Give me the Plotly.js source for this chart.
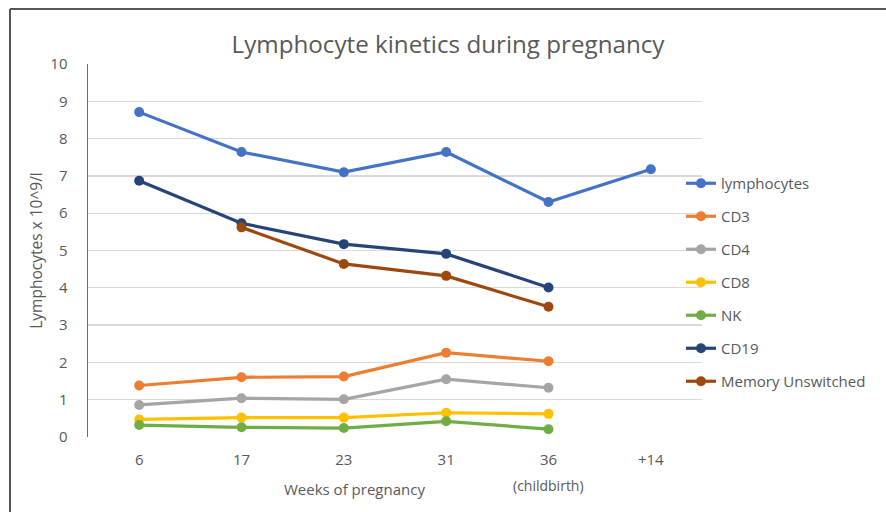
<!DOCTYPE html>
<html>
<head>
<meta charset="utf-8">
<script src="https://cdn.plot.ly/plotly-3.0.1.min.js"></script>
<style>html,body{margin:0;padding:0;background:#fff;}#chart{width:886px;height:512px;}</style>
</head>
<body>
<div id="chart"></div>
<script>
const weeks = ['6', '17', '23', '31', '36', '+14'];
const childbirthWeek = '36';
const weekSubLabel = '(childbirth)';

const lymphocytes = [8.71, 7.64, 7.10, 7.64, 6.30, 7.18];
const cd3 = [1.38, 1.60, 1.62, 2.26, 2.03, null];
const cd4 = [0.86, 1.04, 1.01, 1.55, 1.32, null];
const cd8 = [0.47, 0.52, 0.52, 0.65, 0.62, null];
const nk = [0.32, 0.26, 0.24, 0.42, 0.21, null];
const cd19 = [6.87, 5.73, 5.17, 4.91, 4.01, null];
const memoryUnswitched = [null, 5.62, 4.64, 4.32, 3.49, null];

const seriesNames = ['lymphocytes', 'CD3', 'CD4', 'CD8', 'NK', 'CD19', 'Memory Unswitched'];
const seriesValues = [lymphocytes, cd3, cd4, cd8, nk, cd19, memoryUnswitched];
const seriesColors = ['#4472C4', '#ED7D31', '#A5A5A5', '#FFC000', '#70AD47', '#264478', '#9E480E'];

const W = 886, H = 512;
const L = 88, R = 184, T = 64, B = 75;
const pw = W - L - R, ph = H - T - B;
const px = x => (x - L) / pw;
const py = y => (H - B - y) / ph;

const txt = '#595959';
const fontFam = '"Open Sans", sans-serif';

const traces = seriesNames.map((n, i) => ({
  type: 'scatter',
  mode: 'lines+markers',
  name: n,
  x: weeks,
  y: seriesValues[i],
  line: {color: seriesColors[i], width: 3.2},
  marker: {color: seriesColors[i], size: 10},
  legendgroup: 'g' + i,
  cliponaxis: false
}));

const layout = {
  width: W, height: H,
  margin: {l: L, r: R, t: T, b: B, autoexpand: false},
  paper_bgcolor: '#fff', plot_bgcolor: '#fff',
  font: {family: fontFam, color: txt, size: 15},
  title: {text: 'Lymphocyte kinetics during pregnancy', font: {size: 24.2, color: txt, family: fontFam},
          xref: 'container', yref: 'container', x: 448 / W, y: 1 - 45 / H, xanchor: 'center', yanchor: 'middle'},
  xaxis: {
    type: 'category', categoryorder: 'array', categoryarray: weeks,
    range: [-0.5, 5.5], showgrid: false, zeroline: false, showline: false,
    ticks: '', ticklabelstandoff: 12, tickfont: {size: 15, color: txt}
  },
  yaxis: {
    range: [0, 10], dtick: 1, tick0: 0, showgrid: true, gridcolor: '#d9d9d9', gridwidth: 1.3,
    zeroline: false, showline: true, linecolor: '#4472C4', linewidth: 1.5,
    ticks: '', ticklabelstandoff: 16, tickfont: {size: 15, color: txt},
    title: {text: 'Lymphocytes x 10^9/l', font: {size: 15.5, color: txt}, standoff: 4}
  },
  showlegend: true,
  legend: {
    xref: 'container', yref: 'container', x: 681 / W, y: 1 - 167 / H, xanchor: 'left', yanchor: 'top',
    font: {size: 15, color: txt}, tracegroupgap: 10.5, traceorder: 'grouped', bgcolor: 'rgba(0,0,0,0)'
  },
  annotations: [
    {text: weekSubLabel, xref: 'x', yref: 'paper', x: weeks.indexOf(childbirthWeek), y: py(485),
     xanchor: 'center', yanchor: 'middle', showarrow: false, font: {size: 14, color: txt}},
    {text: 'Weeks of pregnancy', xref: 'paper', yref: 'paper', x: px(354), y: py(489),
     xanchor: 'center', yanchor: 'middle', showarrow: false, font: {size: 15, color: txt}}
  ],
  shapes: [
    {type: 'line', xref: 'paper', yref: 'paper', x0: px(10), x1: px(886), y0: py(9), y1: py(9), line: {color: '#555', width: 2}},
    {type: 'line', xref: 'paper', yref: 'paper', x0: px(10), x1: px(10), y0: py(9), y1: py(512), line: {color: '#555', width: 2}}
  ]
};

Plotly.newPlot('chart', traces, layout, {displayModeBar: false, staticPlot: true});
</script>
</body>
</html>
